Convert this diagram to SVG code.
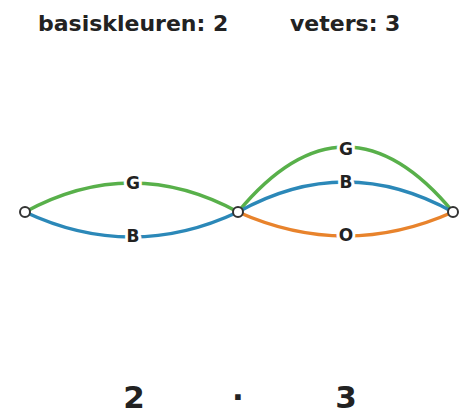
<svg xmlns="http://www.w3.org/2000/svg" width="461" height="416" viewBox="0 0 461 416">
<style>
.t{font-family:"DejaVu Sans",sans-serif;font-weight:bold;fill:#222;}
.h{font-size:22px;}
.l{font-size:17px;text-anchor:middle;paint-order:stroke;stroke:#fff;stroke-width:6px;}
.b{font-size:31px;text-anchor:middle;}
.e{fill:none;stroke-width:3.5;stroke-linecap:round;}
.g{stroke:#58b04a;}
.bl{stroke:#2b88b8;}
.o{stroke:#e8832c;}
.n{fill:#fff;stroke:#333;stroke-width:2;}
</style>
<rect width="461" height="416" fill="#fff"/>
<text class="t h" x="38" y="31">basiskleuren: 2</text>
<text class="t h" x="290" y="31">veters: 3</text>
<g id="connectors">
<path class="e g" d="M25,212 Q131.5,154 238,212"/>
<path class="e bl" d="M25,212 Q131.5,262 238,212"/>
<path class="e g" d="M238,212 Q345.5,82 453,212"/>
<path class="e bl" d="M238,212 Q345.5,152 453,212"/>
<path class="e o" d="M238,212 Q345.5,260 453,212"/>
<text class="t l" x="133" y="189">G</text>
<text class="t l" x="133" y="242">B</text>
<text class="t l" x="346" y="155">G</text>
<text class="t l" x="346" y="188">B</text>
<text class="t l" x="346" y="241">O</text>
</g>
<g id="n1"><circle class="n" cx="25" cy="212" r="5"/></g>
<g id="n2"><circle class="n" cx="238" cy="212" r="5"/></g>
<g id="n3"><circle class="n" cx="453" cy="212" r="5"/></g>
<text class="t b" x="134" y="408">2</text>
<text class="t b" x="238" y="408">·</text>
<text class="t b" x="346" y="408">3</text>
</svg>
